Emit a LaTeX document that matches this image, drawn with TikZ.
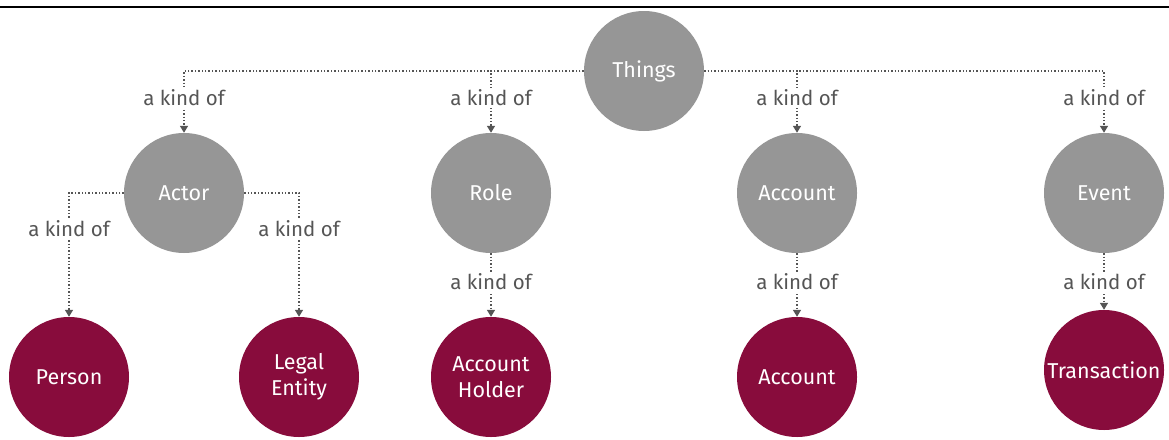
\documentclass[tikz,border=0pt]{standalone}
\usepackage{fontspec}
\setmainfont{Fira Sans}
\usetikzlibrary{arrows.meta}
\definecolor{thinggray}{HTML}{969696}
\definecolor{maroon}{HTML}{880C3C}
\definecolor{linegray}{HTML}{555555}
\tikzset{
  concept/.style={circle, minimum size=120pt, inner sep=0pt, fill=thinggray,
    text=white, font=\fontsize{21.5}{26}\selectfont, align=center},
  leaf/.style={concept, fill=maroon},
  kindof/.style={draw=linegray, line width=1.4pt, dotted,
    -{Triangle[length=7pt,width=8pt]}},
  kindlabel/.style={fill=white, text=linegray, inner sep=2pt,
    font=\fontsize{20.5}{24}\selectfont}
}
\begin{document}
\begin{tikzpicture}[x=1pt,y=-1pt]
\useasboundingbox (0,0) rectangle (1169,439);
% rule across the top
\draw[line width=2.5pt] (0,7) -- (1169,7);

% upper tier
\node[concept] (things) at (644,71) {Things};
\node[concept] (actor) at (184,193) {Actor};
\node[concept] (role) at (491,193) {Role};
\node[concept] (account) at (797,193) {Account};
\node[concept] (event) at (1104,193) {Event};

% lower tier
\node[leaf] (person) at (69,377) {Person};
\node[leaf] (legal) at (299,377) {Legal\\Entity};
\node[leaf] (holder) at (491,377) {Account\\Holder};
\node[leaf] (account2) at (797,377) {Account};
\node[leaf] (trans) at (1104,370) {Transaction};

% connectors from Things
\draw[kindof] (things.west) -| (actor.north);
\draw[kindof] (things.west) -| (role.north);
\draw[kindof] (things.east) -| (account.north);
\draw[kindof] (things.east) -| (event.north);

% connectors from Actor
\draw[kindof] (actor.west) -| (person.north);
\draw[kindof] (actor.east) -| (legal.north);

% straight connectors
\draw[kindof] (role.south) -- (holder.north);
\draw[kindof] (account.south) -- (account2.north);
\draw[kindof] (event.south) -- (trans.north);

% labels
\foreach \n/\x/\y in {l1/184/98, l2/491/98, l3/797/98, l4/1104/98,
                      l5/69/229, l6/299/229,
                      l7/491/282, l8/797/282, l9/1104/282}
  \node[kindlabel] (\n) at (\x,\y) {a kind of};
\end{tikzpicture}
\end{document}
